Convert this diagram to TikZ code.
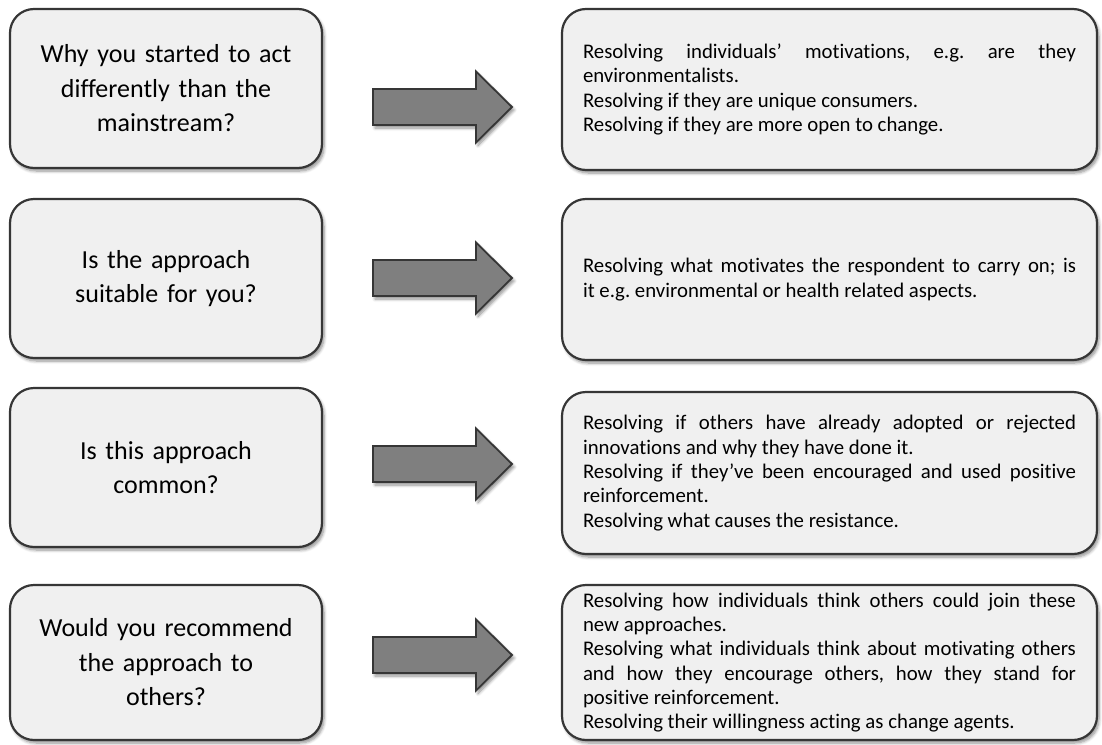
\documentclass[tikz,border=0pt]{standalone}
\usepackage{fontspec}
\setmainfont{Carlito}[RawFeature=-liga]
\usetikzlibrary{shadows.blur}
\definecolor{boxfill}{HTML}{F0F0F0}
\definecolor{boxline}{HTML}{363636}
\definecolor{arrowfill}{HTML}{7F7F7F}
\begin{document}
\frenchspacing
\begin{tikzpicture}[x=1pt,y=-1pt,
  softshadow/.style={blur shadow={shadow xshift=2pt,shadow yshift=-3pt,shadow blur steps=6,shadow opacity=45,shadow blur radius=3pt}},
  question/.style={draw=boxline,line width=2.2pt,fill=boxfill,rounded corners=24pt,
    minimum width=312pt,text width=300pt,align=center,inner sep=0pt,
    font=\fontsize{26}{34.5}\selectfont,softshadow},
  answer/.style={draw=boxline,line width=2.2pt,fill=boxfill,rounded corners=24pt,
    minimum width=535pt,text width=493pt,align=justify,inner sep=0pt,
    font=\fontsize{20.8}{24.3}\selectfont,softshadow},
  blockarrow/.style={draw=boxline,line width=1.8pt,fill=arrowfill,line join=miter,softshadow}]
\useasboundingbox (0,0) rectangle (1102,744);

% question boxes (left column)
\node[question,minimum height=159pt] (q1) at (166,88.5)
  {Why you started to act\\ differently than the\\ mainstream?};
\node[question,minimum height=159pt] (q2) at (166,278.5)
  {Is the approach\\ suitable for you?};
\node[question,minimum height=159pt] (q3) at (166,467.5)
  {Is this approach\\ common?};
\node[question,minimum height=155pt] (q4) at (166,662.5)
  {Would you recommend\\ the approach to\\ others?};

% answer boxes (right column)
\node[answer,minimum height=161pt] (a1) at (829.5,89.5)
  {Resolving individuals’ motivations, e.g. are they\linebreak environmentalists.\\
   Resolving if they are unique consumers.\\
   Resolving if they are more open to change.};
\node[answer,minimum height=161pt] (a2) at (829.5,279.5)
  {Resolving what motivates the respondent to carry on; is\linebreak it e.g. environmental or health related aspects.};
\node[answer,minimum height=162pt] (a3) at (829.5,473)
  {Resolving if others have already adopted or rejected\linebreak innovations and why they have done it.\\
   Resolving if they’ve been encouraged and used positive\linebreak reinforcement.\\
   Resolving what causes the resistance.};
\node[answer,minimum height=155pt] (a4) at (829.5,662.5)
  {Resolving how individuals think others could join these\linebreak new approaches.\\
   Resolving what individuals think about motivating others\linebreak and how they encourage others, how they stand for\linebreak positive reinforcement.\\
   Resolving their willingness acting as change agents.};

% block arrows between the columns
\foreach \y in {107,278,464,655}{
  \draw[blockarrow] (373,\y-18) -- (476,\y-18) -- (476,\y-35.5) -- (512,\y)
    -- (476,\y+35.5) -- (476,\y+18) -- (373,\y+18) -- cycle;
}
\end{tikzpicture}
\end{document}
